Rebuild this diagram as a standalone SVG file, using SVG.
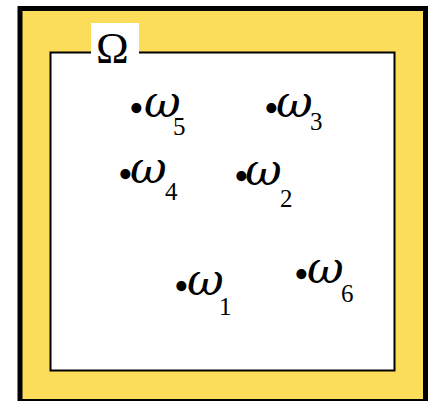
<svg xmlns="http://www.w3.org/2000/svg" width="435" height="401" viewBox="0 0 435 401">
<style>
.t{font-family:"Liberation Serif",serif;fill:#000}
.b{font-size:42px}
.w{font-family:"DejaVu Serif",serif;font-style:italic;font-size:45px}
.s{font-size:25px}
</style>
<rect width="435" height="401" fill="#fff"/>
<g id="domain">
<rect x="20" y="8.5" width="405.5" height="393" fill="#FCDD5A" stroke="#000" stroke-width="5"/>
<rect x="50.5" y="52.5" width="344" height="318" fill="#fff" stroke="#000" stroke-width="2"/>
<rect x="91" y="23" width="48" height="31" fill="#fff"/>
<text class="t" x="96" y="63" font-size="44">Ω</text>
</g>
<g id="w5"><text class="t"><tspan class="b" x="129" y="122">•</tspan><tspan class="w" x="144" y="117">ω</tspan><tspan class="s" x="173" y="135">5</tspan></text></g>
<g id="w3"><text class="t"><tspan class="b" x="264" y="122">•</tspan><tspan class="w" x="276" y="117">ω</tspan><tspan class="s" x="310" y="130">3</tspan></text></g>
<g id="w4"><text class="t"><tspan class="b" x="118" y="188">•</tspan><tspan class="w" x="130" y="183">ω</tspan><tspan class="s" x="165" y="200">4</tspan></text></g>
<g id="w2"><text class="t"><tspan class="b" x="234" y="190">•</tspan><tspan class="w" x="245" y="185">ω</tspan><tspan class="s" x="280" y="207">2</tspan></text></g>
<g id="w1"><text class="t"><tspan class="b" x="174" y="300">•</tspan><tspan class="w" x="187" y="295">ω</tspan><tspan class="s" x="219" y="315">1</tspan></text></g>
<g id="w6"><text class="t"><tspan class="b" x="294" y="288">•</tspan><tspan class="w" x="307" y="283">ω</tspan><tspan class="s" x="341" y="302">6</tspan></text></g>
</svg>
